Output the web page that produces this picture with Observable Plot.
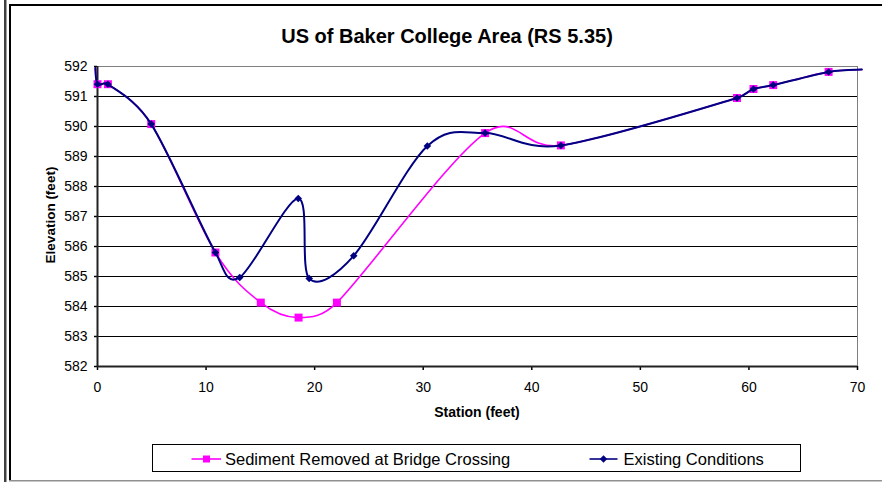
<!DOCTYPE html>
<html>
<head>
<meta charset="utf-8">
<script src="https://cdn.jsdelivr.net/npm/d3@7"></script>
<script src="https://cdn.jsdelivr.net/npm/@observablehq/plot@0.6"></script>
<style>
  html, body { margin: 0; padding: 0; background: #fff; }
  #wrap { position: relative; width: 882px; height: 482px; overflow: hidden; background: #fff;
          font-family: "Liberation Sans", Arial, sans-serif; }
  #wrap > svg { position: absolute; left: 0; top: 0; }
</style>
</head>
<body>
<div id="wrap"></div>
<script>
// ---- data ----
const stationExisting = [-0.2, 0, 0.96, 4.95, 10.86, 13.1, 18.49, 19.5, 23.6, 30.38, 35.7, 42.68, 58.9, 60.42, 62.24, 67.34, 70.4];
const elevExisting    = [591.95, 591.41, 591.41, 590.08, 585.8, 584.97, 587.6, 584.93, 585.69, 589.35, 589.78, 589.37, 590.95, 591.25, 591.38, 591.82, 591.9];
const stationSediment = [-0.2, 0, 0.96, 4.95, 10.86, 15.04, 18.52, 22.05, 35.7, 42.68, 58.9, 60.42, 62.24, 67.34, 70.4];
const elevSediment    = [591.95, 591.41, 591.41, 590.08, 585.8, 584.13, 583.63, 584.13, 589.78, 589.37, 590.95, 591.25, 591.38, 591.82, 591.9];
const xTicks = [0, 10, 20, 30, 40, 50, 60, 70];
const yTicks = [582, 583, 584, 585, 586, 587, 588, 589, 590, 591, 592];
const gridY  = [583, 584, 585, 586, 587, 588, 589, 590, 591];
const seriesNames = ["Sediment Removed at Bridge Crossing", "Existing Conditions"];
const titleText = "US of Baker College Area (RS 5.35)";
const xLabel = "Station (feet)";
const yLabel = "Elevation (feet)";

const existing = stationExisting.map((x, i) => ({x, y: elevExisting[i]}));
const sediment = stationSediment.map((x, i) => ({x, y: elevSediment[i]}));
const inRange = d => d.x >= 0 && d.x <= 70;

const MAGENTA = "#FF00FF", NAVY = "#000080";
const FONT = '"Liberation Sans", Arial, sans-serif';

// Spreadsheet-style smoothed line: Bezier segments with 1/6 neighbour tangents,
// limited to half the segment length (computed in screen space).
function SmoothCurve(context) { this._context = context; }
SmoothCurve.prototype = {
  areaStart() {}, areaEnd() {},
  lineStart() { this._pts = []; },
  point(x, y) { this._pts.push([+x, +y]); },
  lineEnd() {
    const p = this._pts, n = p.length, c = this._context;
    if (!n) return;
    c.moveTo(p[0][0], p[0][1]);
    if (n === 1) return;
    for (let i = 0; i < n - 1; i++) {
      const p0 = p[Math.max(i - 1, 0)], p1 = p[i], p2 = p[i + 1], p3 = p[Math.min(i + 2, n - 1)];
      const half = Math.hypot(p2[0] - p1[0], p2[1] - p1[1]) / 2;
      let ax = (p2[0] - p0[0]) / 6, ay = (p2[1] - p0[1]) / 6;
      let la = Math.hypot(ax, ay); if (la > half) { ax *= half / la; ay *= half / la; }
      let bx = (p3[0] - p1[0]) / 6, by = (p3[1] - p1[1]) / 6;
      let lb = Math.hypot(bx, by); if (lb > half) { bx *= half / lb; by *= half / lb; }
      c.bezierCurveTo(p1[0] + ax, p1[1] + ay, p2[0] - bx, p2[1] - by, p2[0], p2[1]);
    }
  }
};
const smooth = context => new SmoothCurve(context);

const chart = Plot.plot({
  width: 882, height: 482,
  marginLeft: 97, marginRight: 25, marginTop: 66, marginBottom: 116,
  x: {domain: [0, 70]},
  y: {domain: [582, 592]},
  style: {fontFamily: FONT, fontSize: "14px", color: "#000", background: "transparent", overflow: "visible"},
  marks: [
    Plot.ruleY(gridY, {stroke: "#000", strokeWidth: 1}),
    Plot.ruleY([592], {stroke: "#808080", strokeWidth: 1}),
    Plot.ruleX([70], {stroke: "#808080", strokeWidth: 1}),
    Plot.axisY({ticks: yTicks, tickSize: 3, tickPadding: 7, tickFormat: d => String(d), label: null, strokeWidth: 1.5, fontSize: 14, fill: "#000"}),
    Plot.axisX({ticks: xTicks, tickSize: 4, tickPadding: 12, tickFormat: d => String(d), label: null, strokeWidth: 1.5, fontSize: 14, fill: "#000"}),
    Plot.ruleX([0], {stroke: "#222", strokeWidth: 2}),
    Plot.ruleY([582], {stroke: "#222", strokeWidth: 2}),
    Plot.line(sediment, {x: "x", y: "y", curve: smooth, stroke: MAGENTA, strokeWidth: 1.6}),
    Plot.dot(sediment.filter(inRange), {x: "x", y: "y", symbol: "square", r: 4.5, fill: MAGENTA, stroke: "none"}),
    Plot.line(existing, {x: "x", y: "y", curve: smooth, stroke: NAVY, strokeWidth: 2}),
    Plot.dot(existing.filter(inRange), {x: "x", y: "y", symbol: "diamond2", r: 3.4, fill: NAVY, stroke: "none"})
  ]
});

const wrap = document.getElementById("wrap");
wrap.appendChild(chart);

// ---- overlay: frame, title, axis titles, legend ----
const ns = "http://www.w3.org/2000/svg";
const ov = document.createElementNS(ns, "svg");
ov.setAttribute("width", 882); ov.setAttribute("height", 482);
ov.style.fontFamily = FONT;
function el(tag, attrs, text) {
  const e = document.createElementNS(ns, tag);
  for (const k in attrs) e.setAttribute(k, attrs[k]);
  if (text != null) e.textContent = text;
  ov.appendChild(e);
  return e;
}
// frame lines
el("rect", {x: 4, y: 0, width: 2.5, height: 482, fill: "#404040"});
el("rect", {x: 9, y: 4, width: 2, height: 477, fill: "#000"});
el("rect", {x: 9, y: 4, width: 873, height: 2, fill: "#000"});
el("rect", {x: 9, y: 480, width: 873, height: 1.5, fill: "#909090"});

// title & axis labels
el("text", {x: 447, y: 43, "text-anchor": "middle", "font-size": 20, "font-weight": "bold", fill: "#000"}, titleText);
el("text", {x: 477, y: 417, "text-anchor": "middle", "font-size": 14, "font-weight": "bold", fill: "#000"}, xLabel);
el("text", {transform: "translate(54.5,215) rotate(-90)", "text-anchor": "middle", "font-size": 13.5, "font-weight": "bold", fill: "#000"}, yLabel);

// legend
el("rect", {x: 152.5, y: 444.5, width: 648, height: 27, fill: "#fff", stroke: "#000", "stroke-width": 1});
el("line", {x1: 191.5, x2: 221, y1: 459, y2: 459, stroke: MAGENTA, "stroke-width": 1.6});
el("rect", {x: 203, y: 455.5, width: 7, height: 7, fill: MAGENTA});
el("text", {x: 225, y: 464.5, "font-size": 16.5, fill: "#000"}, seriesNames[0]);
el("line", {x1: 589.5, x2: 617.5, y1: 459, y2: 459, stroke: NAVY, "stroke-width": 1.6});
el("path", {d: "M603.5,455.3 L607.2,459 L603.5,462.7 L599.8,459 Z", fill: NAVY});
el("text", {x: 623.5, y: 464.5, "font-size": 16.5, fill: "#000"}, seriesNames[1]);

wrap.appendChild(ov);
</script>
</body>
</html>
